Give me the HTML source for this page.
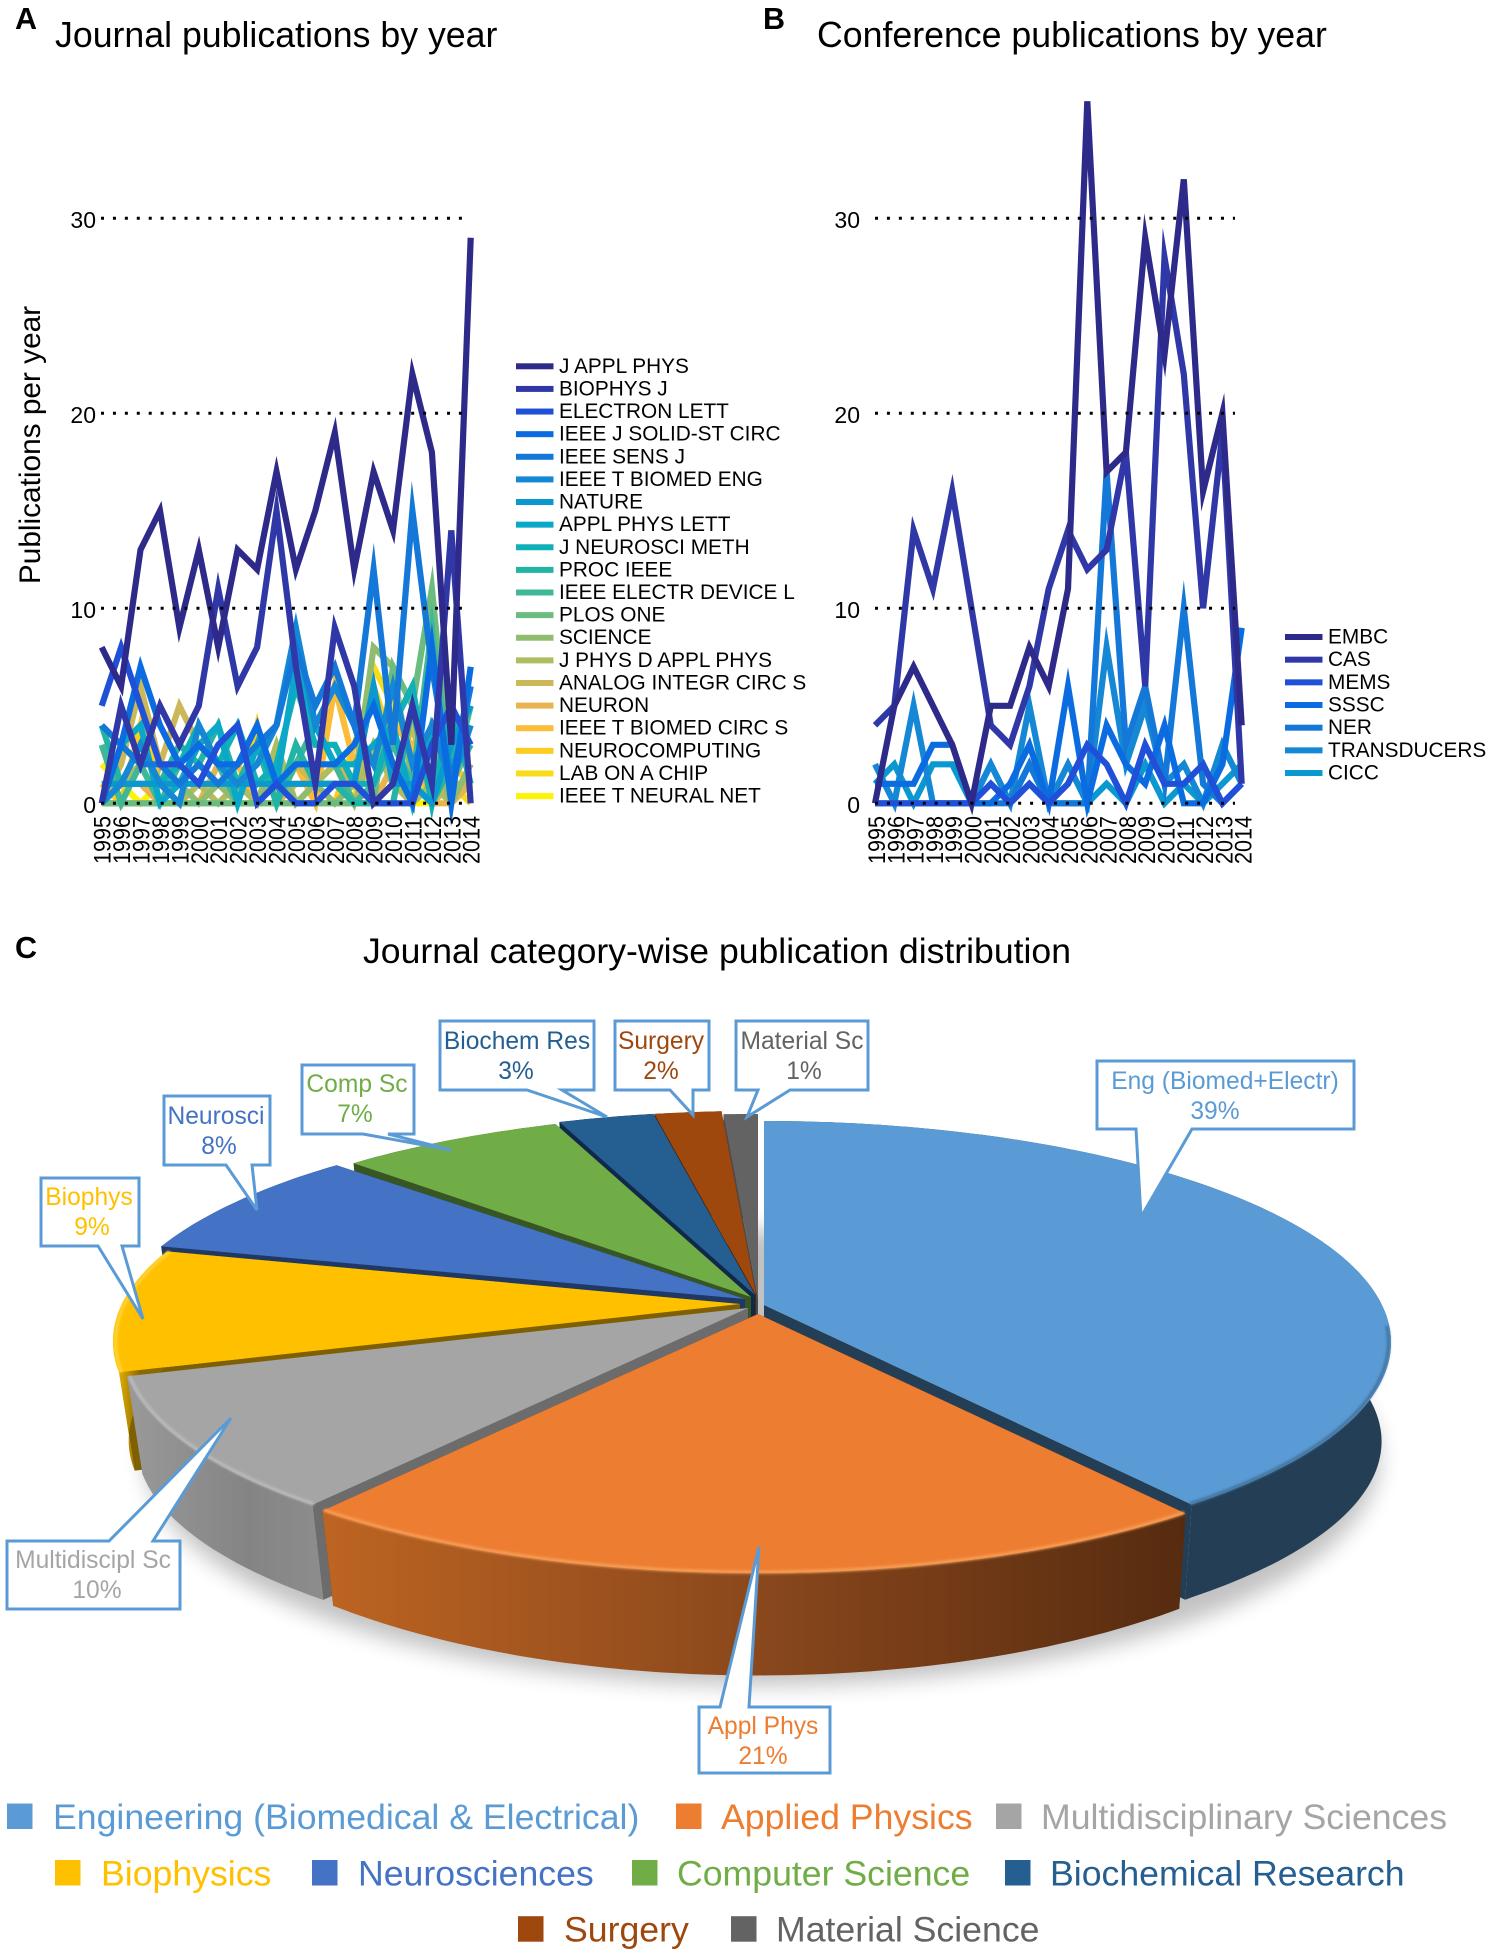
<!DOCTYPE html>
<html lang="en">
<head>
<meta charset="utf-8">
<title>Publication charts</title>
<style>
html,body{margin:0;padding:0;background:#fff;}
svg{display:block;font-family:"Liberation Sans",Arial,sans-serif;}
</style>
</head>
<body>
<svg id="fig" xmlns="http://www.w3.org/2000/svg" width="1491" height="1956" viewBox="0 0 1491 1956">
  <defs>
    <clipPath id="plotClip"><rect x="60" y="101" width="1200" height="780"/></clipPath>
    <filter id="softShadow" x="-20%" y="-40%" width="140%" height="180%"><feGaussianBlur stdDeviation="11"/></filter>
    <filter id="rimBlur" x="-5%" y="-20%" width="110%" height="140%"><feGaussianBlur stdDeviation="1.2"/></filter>
    <linearGradient id="sideOrange" gradientUnits="userSpaceOnUse" x1="325" y1="0" x2="1185" y2="0">
      <stop offset="0" stop-color="#bd6422"/><stop offset="0.5" stop-color="#8a481c"/><stop offset="1" stop-color="#562b10"/>
    </linearGradient>
    <linearGradient id="sideGray" gradientUnits="userSpaceOnUse" x1="125" y1="0" x2="330" y2="0">
      <stop offset="0" stop-color="#9a9a9a"/><stop offset="0.6" stop-color="#848484"/><stop offset="1" stop-color="#8e8e8e"/>
    </linearGradient>
    <linearGradient id="sideYellow" gradientUnits="userSpaceOnUse" x1="112" y1="0" x2="140" y2="0">
      <stop offset="0" stop-color="#f8c400"/><stop offset="0.6" stop-color="#b98c00"/><stop offset="1" stop-color="#8a6a00"/>
    </linearGradient>
  </defs>
  <text x="15" y="29" font-size="30.5" font-weight="bold">A</text>
  <text x="55" y="47" font-size="35.7">Journal publications by year</text>
  <text x="763" y="29" font-size="30.5" font-weight="bold">B</text>
  <text x="817" y="47" font-size="35.7">Conference publications by year</text>
  <text x="15" y="958" font-size="30.5" font-weight="bold">C</text>
  <text x="717" y="963" font-size="35.6" text-anchor="middle">Journal category-wise publication distribution</text>
  <text transform="translate(40,445) rotate(-90)" font-size="29.8" text-anchor="middle">Publications per year</text>
  <g id="chartA"></g>
  <g id="chartB"></g>
  <g id="pie"></g>
  <g id="callouts"></g>
  <g id="pieLegend"></g>
</svg>
<script>
// ---------- chart data ----------
const years = [1995,1996,1997,1998,1999,2000,2001,2002,2003,2004,2005,2006,2007,2008,2009,2010,2011,2012,2013,2014];
const yTicks = [0,10,20,30];

const journalNames = ["J APPL PHYS","BIOPHYS J","ELECTRON LETT","IEEE J SOLID-ST CIRC","IEEE SENS J","IEEE T BIOMED ENG","NATURE","APPL PHYS LETT","J NEUROSCI METH","PROC IEEE","IEEE ELECTR DEVICE L","PLOS ONE","SCIENCE","J PHYS D APPL PHYS","ANALOG INTEGR CIRC S","NEURON","IEEE T BIOMED CIRC S","NEUROCOMPUTING","LAB ON A CHIP","IEEE T NEURAL NET"];
const jApplPhys   = [8,6,13,15,9,13,8,13,12,17,12,15,19,12,17,14,22,18,3,29];
const biophysJ    = [0,5,2,5,3,5,11,6,8,15,7,1,9,6,0,1,5,1,14,0];
const electronLett= [5,8,5,2,2,1,3,4,0,1,0,0,1,1,0,0,0,3,5,3];
const solidSt     = [0,3,7,4,2,3,2,2,4,1,2,2,2,3,5,2,0,8,0,7];
const sensJ       = [4,3,2,2,1,2,1,2,3,4,8,5,7,4,12,3,15,7,1,6];
const biomedEng   = [0,1,3,1,0,4,2,1,2,4,9,4,6,4,2,6,2,4,1,4];
const nature      = [1,1,1,1,1,1,1,1,1,1,1,1,1,1,6,1,1,0,3,5];
const applPhysLett= [0,3,4,0,1,3,4,0,3,1,7,4,2,2,3,4,0,4,2,3];
const neurosciMeth= [0,1,3,1,2,4,2,4,1,2,6,3,3,1,1,4,6,0,5,1];
const procIeee    = [4,1,1,1,3,2,4,1,3,0,3,1,1,0,0,0,5,0,2,6];
const electrDevice= [3,0,2,0,2,3,2,0,3,0,2,4,2,0,1,3,1,9,1,5];
const plosOne     = [0,0,0,0,0,0,0,0,0,0,0,0,0,0,0,7,5,11,1,3];
const science     = [0,0,0,0,1,0,1,0,0,2,0,1,0,1,8,7,1,3,0,2];
const jPhysD      = [0,1,2,0,0,1,0,1,0,3,0,1,2,0,3,1,0,1,0,2];
const analogInteg = [0,2,6,2,5,3,2,1,3,0,2,1,2,1,3,1,4,0,1,1];
const neuron      = [0,1,1,0,0,0,2,1,0,0,1,1,1,0,0,2,1,0,0,1];
const biomedCirc  = [0,0,0,0,0,0,1,2,0,0,2,0,6,2,1,4,3,0,2,3];
const neurocomp   = [1,0,4,1,0,0,0,0,4,0,0,0,0,3,6,3,1,0,2,1];
const labOnChip   = [0,0,0,0,0,0,0,0,0,0,0,0,0,0,7,5,2,0,1,0];
const neuralNet   = [2,1,0,1,0,0,1,0,0,1,0,0,0,1,0,0,0,0,1,0];
const journalSeries = [jApplPhys,biophysJ,electronLett,solidSt,sensJ,biomedEng,nature,applPhysLett,neurosciMeth,procIeee,electrDevice,plosOne,science,jPhysD,analogInteg,neuron,biomedCirc,neurocomp,labOnChip,neuralNet];

const confNames = ["EMBC","CAS","MEMS","SSSC","NER","TRANSDUCERS","CICC"];
const embc        = [0,5,7,5,3,0,5,5,8,6,11,36,17,18,29,23,32,16,20,4];
const cas         = [4,5,14,11,16,10,4,3,6,11,14,12,13,18,6,28,22,10,19,1];
const mems        = [0,0,0,0,0,0,1,0,1,0,1,3,2,0,3,1,1,2,0,1];
const sssc        = [1,1,1,3,3,0,0,1,3,0,6,0,4,2,1,4,0,0,2,9];
const ner         = [0,0,0,0,0,0,0,0,2,0,0,0,17,3,6,1,10,1,0,1];
const transducers = [2,0,5,0,0,0,2,0,5,0,2,0,8,2,5,1,2,0,3,1];
const cicc        = [1,2,0,2,2,0,2,0,2,0,0,0,1,0,2,0,1,0,1,2];
const confSeries = [embc,cas,mems,sssc,ner,transducers,cicc];

const parula = ["#2e2a8a","#3038a8","#2150d8","#0a6ce0","#1478d8","#1488d4","#0a98d0","#0aa8c8","#10b0b8","#22b4a4","#40b898","#6cbc80","#90bc70","#b0bc60","#ccb858","#e8b450","#fcbc38","#fccc20","#f8dc18","#fcf400"];

const pieValues = [39,21,10,9,8,7,3,2,1];
const pieCategories = ["Engineering (Biomedical & Electrical)","Applied Physics","Multidisciplinary Sciences","Biophysics","Neurosciences","Computer Science","Biochemical Research","Surgery","Material Science"];
const pieShortNames = ["Eng (Biomed+Electr)","Appl Phys","Multidiscipl Sc","Biophys","Neurosci","Comp Sc","Biochem Res","Surgery","Material Sc"];

// ---------- helpers ----------
const NS = "http://www.w3.org/2000/svg";
function mk(tag, attrs, parent){
  const el = document.createElementNS(NS, tag);
  for (const k in attrs) el.setAttribute(k, attrs[k]);
  parent.appendChild(el);
  return el;
}

// ---------- line charts ----------
function drawLineChart(cfg){
  const root = document.getElementById(cfg.id);
  const xOf = i => cfg.x0 + (cfg.x1 - cfg.x0) * (i / (years.length - 1));
  const yOf = v => 803.3 - v * 19.5;

  const linesG = mk("g", {"clip-path":"url(#plotClip)"}, root);
  
  
  for (let s = cfg.series.length - 1; s >= 0; s--){
    const pts = cfg.series[s].map((v,i) => xOf(i).toFixed(1) + "," + yOf(v).toFixed(1)).join(" ");
    const line = mk("polyline", {points:pts, fill:"none", stroke:parula[s], "stroke-width":6.2, "stroke-linejoin":"miter", "stroke-miterlimit":10, "stroke-linecap":"butt"}, linesG);
    
    
  }
  yTicks.forEach(t => {
    const y = yOf(t);
    const grid = mk("line", {x1:cfg.gx0, x2:cfg.gx1, y1:y, y2:y, stroke:"#000", "stroke-width":3, "stroke-dasharray":"3 8.93"}, root);
    
    
    const lab = mk("text", {x:cfg.labelX, y:y + 9.6, "font-size":23, "text-anchor":"end"}, root);
    
    
    lab.textContent = t;
  });
  years.forEach((yr,i) => {
    const lab = mk("text", {transform:"translate(" + (xOf(i) + cfg.tickDx).toFixed(1) + ",864) rotate(-90) scale(.9,1)", "font-size":24}, root);
    
    
    lab.textContent = yr;
  });
  cfg.names.forEach((n,i) => {
    const y = cfg.legY + i * cfg.legStep;
    const sw = mk("rect", {x:cfg.legX, y:y - 3, width:37.5, height:6, fill:parula[i]}, root);
    
    
    const t = mk("text", {x:cfg.legX + 43, y:y + 6.5, "font-size":20.8}, root);
    
    
    t.textContent = n;
  });
}
drawLineChart({id:"chartA", series:journalSeries, names:journalNames, x0:101.7, x1:470.7, gx0:101, gx1:463, labelX:96, tickDx:9, legX:516, legY:366.3, legStep:22.62});
drawLineChart({id:"chartB", series:confSeries, names:confNames, x0:875, x1:1241.7, gx0:875, gx1:1235, labelX:860, tickDx:10, legX:1285, legY:637, legStep:22.67});

// ---------- 3D pie ----------
const pieColors = ["#5b9bd5","#ed7d31","#a5a5a5","#ffc000","#4472c4","#70ad47","#255e91","#9e480e","#636363"];
const pieWalls  = ["#233e55","#5e3010","#6c6c6c","#7f6000","#1f3864","#375623","#10294a","#4f2507","#4a4a4a"];
const pieSides  = ["#233e55","url(#sideOrange)","url(#sideGray)","url(#sideYellow)","#1f3864","#375623","#10294a","#4f2507","#4a4a4a"];
const pieRims   = ["#41719a","#f8a058","#bcbcbc","#ffd53d","#4472c4","#70ad47","#255e91","#9e480e","#636363"];
const sliceShiftX = [8,2,-8,-16,-22,-5,-1,0,2];
const sliceShiftY = [-2,7,1,-3,-8,-10,-12,-12,-9];
const paintOrder = [8,7,6,5,4,3,0,2,1];
const pieShape = {ax:756, ay:1307, ex:756, ey:1344.5, a:627, b:221.5, depth:99, frontExtra:9, shrinkRight:0.985, shrinkLeft:0.975};
// perspective projection: true pie angle -> angle on the projected ellipse
const projIn  = [0,90,140.4,180,216,252,284.4,313,338,349,356,360];
const projOut = [0,80,137,180,224,262,294,320.5,341.5,350.5,356.5,360];

const pieRoot = document.getElementById("pie");
const pieTotal = pieValues.reduce((p,c) => p + c, 0);
function phiOf(deg){
  let k = 0;
  while (k < projIn.length - 2 && deg > projIn[k + 1]) k++;
  const t = (deg - projIn[k]) / (projIn[k + 1] - projIn[k]);
  return (projOut[k] + t * (projOut[k + 1] - projOut[k])) * Math.PI / 180;
}
function topPt(deg, i, scale){
  const f = phiOf(deg), s = scale || 1;
  return [pieShape.ex + pieShape.a * s * Math.sin(f) + sliceShiftX[i], pieShape.ey - pieShape.b * s * Math.cos(f) + sliceShiftY[i]];
}
function botPt(deg, i){
  const f = phiOf(deg), k = Math.sin(f) > 0 ? pieShape.shrinkRight : pieShape.shrinkLeft;
  const extra = pieShape.frontExtra * Math.max(0, -Math.cos(f) - 0.72) / 0.28;
  return [pieShape.ex + pieShape.a * k * Math.sin(f) + sliceShiftX[i], pieShape.ey + pieShape.depth + extra - pieShape.b * pieShape.shrinkLeft * Math.cos(f) + sliceShiftY[i]];
}
function toPath(pts, close){ return "M" + pts.map(p => p[0].toFixed(1) + " " + p[1].toFixed(1)).join("L") + (close ? "Z" : ""); }
function arcPts(fn, a0, a1, i, scale){
  const out = [], n = Math.max(2, Math.ceil(Math.abs(a1 - a0)));
  for (let k = 0; k <= n; k++) out.push(fn(a0 + (a1 - a0) * k / n, i, scale));
  return out;
}
const sliceStart = [], sliceEnd = [];
let running = 0;
pieValues.forEach((v,i) => { sliceStart[i] = running / pieTotal * 360; running += v; sliceEnd[i] = running / pieTotal * 360; });

const shadow = mk("ellipse", {cx:pieShape.ex + 6, cy:pieShape.ey + pieShape.depth + 14, rx:pieShape.a * pieShape.shrinkLeft + 6, ry:pieShape.b * pieShape.shrinkLeft + 12, fill:"#000", opacity:0.24, filter:"url(#softShadow)"}, pieRoot);



paintOrder.forEach(i => {
  const a0 = sliceStart[i], a1 = sliceEnd[i];
  const apex = [pieShape.ax + sliceShiftX[i] * (i === 4 ? 0.5 : 1), pieShape.ay + sliceShiftY[i]];
  const apexB = [apex[0], apex[1] + pieShape.depth];
  const g = mk("g", {}, pieRoot);
  
  
  [a0, a1].forEach(edge => {
    const wall = mk("path", {d:toPath([apex, topPt(edge,i), botPt(edge,i), apexB], true), fill:pieWalls[i]}, g);
    
    
  });
  const outer = arcPts(topPt, a0, a1, i).concat(arcPts(botPt, a1, a0, i));
  const side = mk("path", {d:toPath(outer, true), fill:pieSides[i]}, g);
  
  
  const top = mk("path", {d:toPath([apex].concat(arcPts(topPt, a0, a1, i)), true), fill:pieColors[i]}, g);
  
  
  if (i < 4){
    const rim = mk("path", {d:toPath(arcPts(topPt, Math.max(a0, 95), Math.min(a1, 300), i, 0.996)), fill:"none", stroke:pieRims[i], "stroke-width":3, filter:"url(#rimBlur)"}, g);
    
    
  }
});

// ---------- callouts ----------
const calloutOutlines = [
  "1097,1061 1354,1061 1354,1129 1192,1129 1141,1217 1136,1129 1097,1129",
  "699,1707 720,1707 759,1547 749,1707 830,1707 830,1773 699,1773",
  "7,1541 109,1541 231,1418 153,1541 180,1541 180,1609 7,1609",
  "41,1178 139,1178 139,1246 122,1246 143,1319 98,1246 41,1246",
  "164,1096 270,1096 270,1165 252,1165 257,1210 226,1165 164,1165",
  "302,1065 414,1065 414,1134 388,1134 451,1150 363,1134 302,1134",
  "440,1021 594,1021 594,1090 562,1090 607,1117 527,1090 440,1090",
  "615,1021 709,1021 709,1090 693,1090 693,1115 670,1090 615,1090",
  "736,1021 868,1021 868,1090 790,1090 747,1117 758,1090 736,1090"
];
const calloutTextX = [1225,763,93,89,216,357,517,661,802];
const calloutPctX  = [1215,763,97,92,219,355,516,661,804];
const calloutBaseY = [1089,1734,1568,1205,1124,1092,1049,1049,1049];
const calloutsRoot = document.getElementById("callouts");
pieValues.forEach((v,i) => {
  const box = mk("polygon", {points:calloutOutlines[i], fill:"#fff", stroke:"#5b9bd5", "stroke-width":3, "stroke-linejoin":"miter"}, calloutsRoot);
  
  
  const name = mk("text", {x:calloutTextX[i], y:calloutBaseY[i], "font-size":24.6, "text-anchor":"middle", fill:pieColors[i]}, calloutsRoot);
  
  
  name.textContent = pieShortNames[i];
  const pct = mk("text", {x:calloutPctX[i], y:calloutBaseY[i] + 30, "font-size":24.6, "text-anchor":"middle", fill:pieColors[i]}, calloutsRoot);
  
  
  pct.textContent = v + "%";
});

// ---------- pie legend ----------
const legendMarkerX = [7,676,996,55,312,632,1005,518,731];
const legendTextX   = [53,721,1041,101,358,677,1050,564,776];
const legendBaseY   = [1829,1829,1829,1885.5,1885.5,1885.5,1885.5,1941.7,1941.7];
const pieLegendRoot = document.getElementById("pieLegend");
pieCategories.forEach((c,i) => {
  const m = mk("rect", {x:legendMarkerX[i], y:legendBaseY[i] - 25.5, width:25.5, height:25.5, fill:pieColors[i]}, pieLegendRoot);
  
  
  const t = mk("text", {x:legendTextX[i], y:legendBaseY[i], "font-size":35.65, fill:pieColors[i]}, pieLegendRoot);
  
  
  t.textContent = c;
});
</script>
</body>
</html>
